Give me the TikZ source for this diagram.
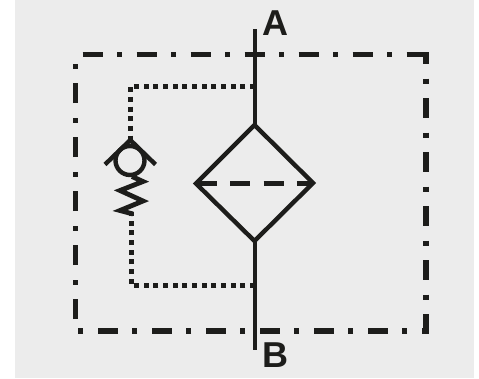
\documentclass[tikz,border=0pt]{standalone}
\usepackage{fontspec}
\setmainfont{Liberation Sans}
\definecolor{ink}{HTML}{1D1D1B}
\definecolor{paper}{HTML}{ECECEC}
\tikzset{
  outline/.style={draw=ink,line width=5.4pt,dash pattern=on 20pt off 14.5pt on 5pt off 14.5pt},
  solidline/.style={draw=ink,line width=4.6pt},
  thinline/.style={draw=ink,line width=4.4pt,line join=miter},
  pilot/.style={draw=ink,line width=5pt,dash pattern=on 5pt off 4.67pt},
  portlabel/.style={font=\fontsize{36}{36}\selectfont\bfseries,text=ink,inner sep=0pt,anchor=center}
}
\begin{document}
\begin{tikzpicture}[x=1pt,y=-1pt]
\useasboundingbox (0,0) rectangle (479,378);
\fill[paper] (15,0) rectangle (473.5,378);
% coordinates
\coordinate (tl) at (75.5,54.5);
\coordinate (tr) at (426,54.5);
\coordinate (br) at (426,331);
\coordinate (bl) at (75.5,331);
\coordinate (top) at (255,29);
\coordinate (bot) at (255,350);
\coordinate (pu) at (255,86);
\coordinate (pl) at (255,285.5);
% enclosure
\draw[outline] (82.5,54.5) -- (tr);
\draw[outline,dash phase=8pt] (426,52) -- (br);
\draw[outline,dash phase=13pt] (428.5,331) -- (bl);
\draw[outline,dash phase=42pt] (75.5,331) -- (tl);
% main line
\draw[solidline] (top) -- (255,125);
\draw[solidline] (255,241) -- (bot);
% filter
\draw[thinline] (254.5,125) -- (313,183) -- (254.5,241) -- (196,183.5) -- cycle;
\draw[draw=ink,line width=5.2pt,dash pattern=on 20pt off 13.3pt] (197,183.5) -- (312,183.5);
% pilot lines
\draw[pilot] (pu) -- (130.5,86) -- (130.5,140);
\draw[pilot] (pl) -- (131,285.5) -- (131,212);
% check valve
\draw[thinline] (105,164.5) -- (130.3,140) -- (155.5,164.5);
\node[circle,draw=ink,line width=4.4pt,minimum size=29pt,inner sep=0pt] (ball) at (130,160.5) {};
\draw[draw=ink,line width=4.8pt,line join=miter] (132,176.5) -- (143,181.5) -- (120,190.5) -- (143,201) -- (120,210.5) -- (133,214);
% labels
\node[portlabel] (A) at (275.5,23.5) {A};
\node[portlabel] (B) at (275.5,355) {B};
\end{tikzpicture}
\end{document}
